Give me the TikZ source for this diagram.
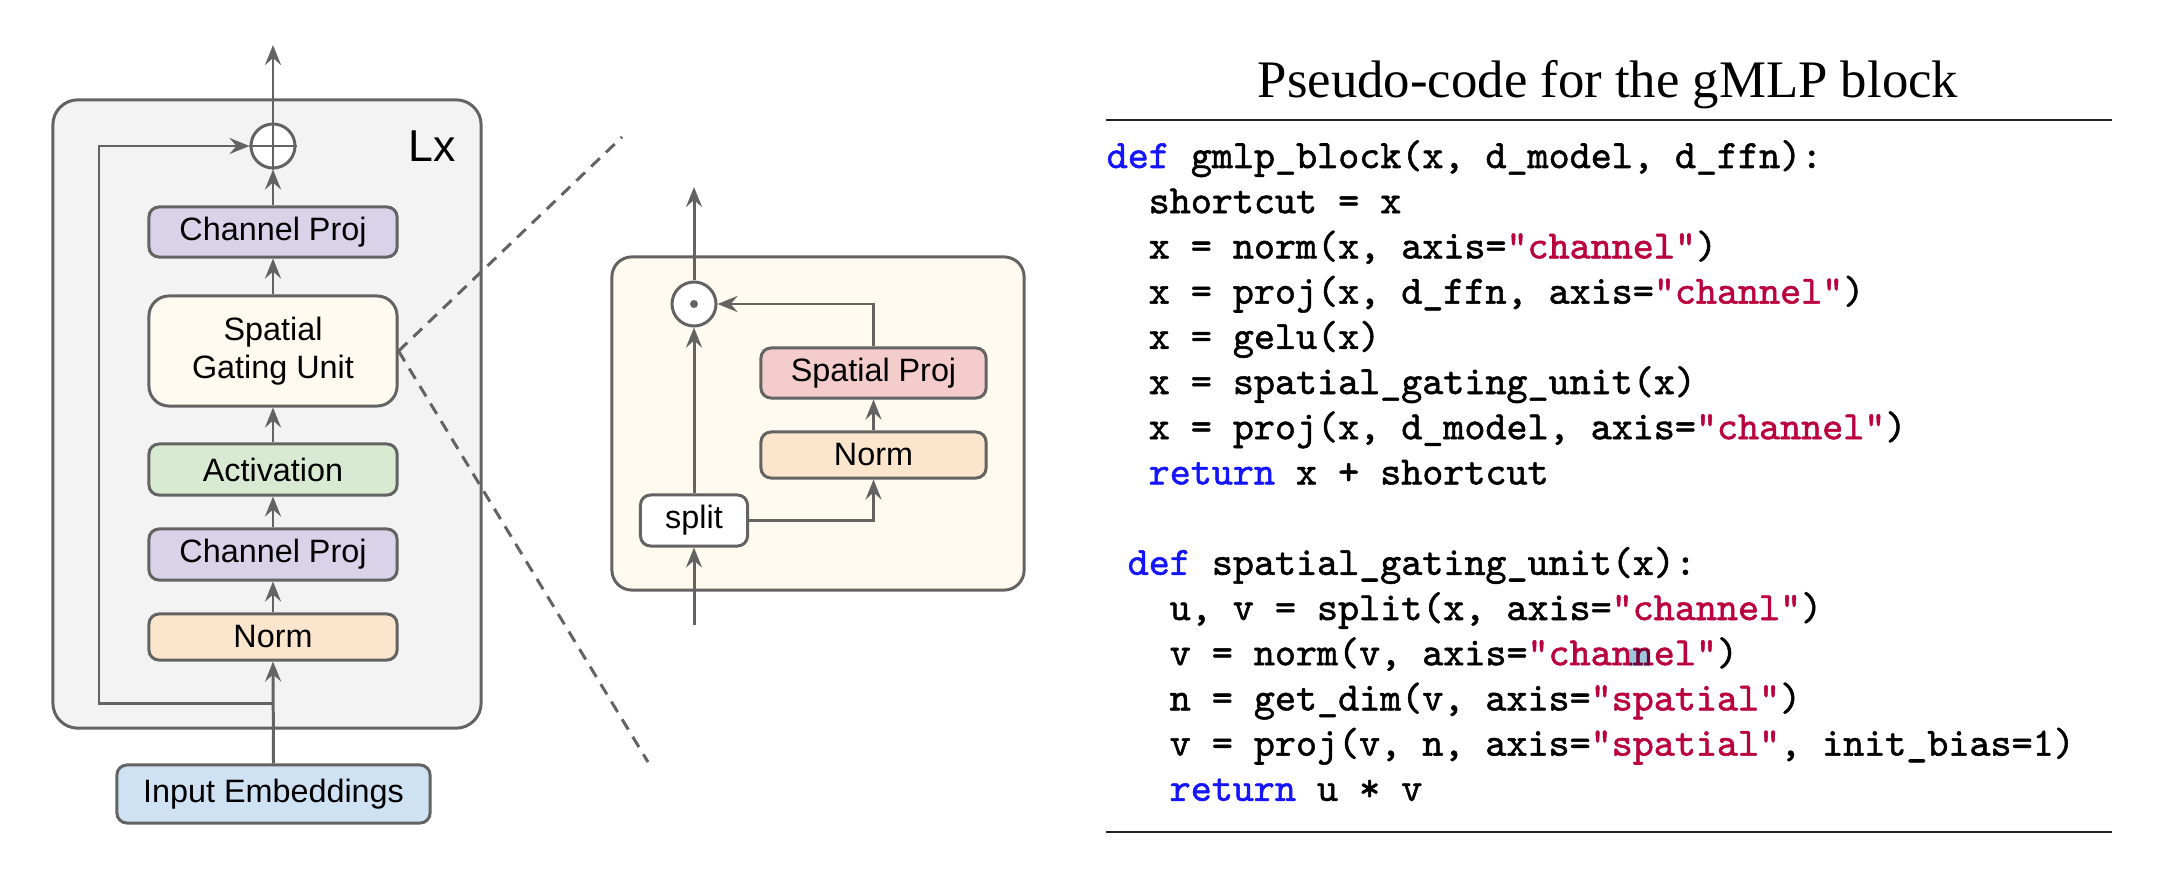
\documentclass[tikz,border=0pt]{standalone}
\usepackage{fontspec}
\setmainfont{Liberation Serif}
\setsansfont{Liberation Sans}
\newfontfamily\codefont{lmmono10-regular.otf}[FakeBold=1.3]
\usetikzlibrary{arrows.meta,calc}
\definecolor{linec}{HTML}{636363}
\definecolor{bgc}{HTML}{F3F3F3}
\definecolor{sguc}{HTML}{FEFAEF}
\definecolor{cpc}{HTML}{D9D2E9}
\definecolor{actc}{HTML}{D9EAD3}
\definecolor{normc}{HTML}{FCE5CD}
\definecolor{inpc}{HTML}{CFE2F3}
\definecolor{spc}{HTML}{F4CCCC}
\definecolor{kwc}{RGB}{20,20,255}
\definecolor{strc}{RGB}{187,0,64}
\definecolor{hlc}{RGB}{160,195,222}
\definecolor{rulec}{HTML}{222222}
\newcommand\ckw[1]{\textcolor{kwc}{#1}}
\newcommand\cstr[1]{\textcolor{strc}{#1}}
\tikzset{
  blk/.style={draw=linec, line width=0.85pt, rounded corners=0.1cm, minimum width=2.48cm,
    minimum height=0.5cm, inner sep=0pt, text=black, font=\sffamily\fontsize{9.2}{10.8}\selectfont},
  arr/.style={draw=linec, line width=0.85pt, -{Stealth[length=0.2cm,width=0.16cm,inset=0.07cm]}},
  plainl/.style={draw=linec, line width=0.85pt},
  dashl/.style={draw=linec, line width=0.85pt, dash pattern=on 0.12cm off 0.085cm},
  opc/.style={circle, draw=linec, line width=0.85pt, fill=white, minimum size=0.44cm, inner sep=0pt},
  codel/.style={anchor=base west, inner sep=0pt, font=\codefont\fontsize{11.4}{13}\selectfont},
  rulel/.style={draw=rulec, line width=0.6pt},
}
\begin{document}
\begin{tikzpicture}[x=0.01cm, y=-0.01cm]
\useasboundingbox (0,0) rectangle (2176,870);

% ---------------- left panel ----------------
\node[draw=linec, line width=0.85pt, fill=bgc, rounded corners=0.25cm,
      minimum width=4.28cm, minimum height=6.28cm, inner sep=0pt] (outer) at (267,414) {};
\node[anchor=base, inner sep=0pt, font=\sffamily\fontsize{12.7}{14}\selectfont] (lx) at (432,162) {Lx};

\node[opc] (plus) at (273,146) {};
\draw[plainl] (plus.north) -- (plus.south);
\draw[plainl] (plus.west) -- (plus.east);

\node[blk, fill=cpc] (cpT) at (273,232) {Channel Proj};
\node[blk, fill=sguc, rounded corners=0.2cm, minimum height=1.1cm, align=center] (sgu) at (273,351) {Spatial\\Gating Unit};
\node[blk, fill=actc, minimum height=0.51cm] (act) at (273,469.5) {Activation};
\node[blk, fill=cpc, minimum height=0.51cm] (cpB) at (273,554.5) {Channel Proj};
\node[blk, fill=normc, minimum height=0.46cm] (normL) at (273,637) {Norm};
\node[blk, fill=inpc, minimum width=3.13cm, minimum height=0.58cm] (inp) at (273.5,794) {Input Embeddings};

\coordinate (outL) at (273,45);
\coordinate (skipB) at (273,703);
\coordinate (skipL) at (99,703);

\draw[arr] (inp.north) -- (normL.south);
\draw[arr] (normL.north) -- (cpB.south);
\draw[arr] (cpB.north) -- (act.south);
\draw[arr] (act.north) -- (sgu.south);
\draw[arr] (sgu.north) -- (cpT.south);
\draw[arr] (cpT.north) -- (plus.south);
\draw[arr] (plus.north) -- (outL);
\draw[arr] (skipB) -- (skipL) |- (plus.west);

% dashed zoom lines
\coordinate (dA) at (622,137);
\coordinate (dB) at (648,762);
\draw[dashl] (sgu.east) -- (dA);
\draw[dashl] (sgu.east) -- (dB);

% ---------------- middle panel ----------------
\node[draw=linec, line width=0.85pt, fill=sguc, rounded corners=0.2cm,
      minimum width=4.12cm, minimum height=3.33cm, inner sep=0pt] (sgubox) at (818,423.5) {};
\node[opc] (odot) at (694,304) {};
\fill[linec] (odot.center) circle (0.04cm);
\node[blk, fill=white, minimum width=1.07cm, minimum height=0.51cm] (split) at (694,520.5) {split};
\node[blk, fill=normc, minimum width=2.25cm, minimum height=0.46cm] (normM) at (873.5,455) {Norm};
\node[blk, fill=spc, minimum width=2.25cm, minimum height=0.5cm] (sp) at (873.5,373) {Spatial Proj};

\coordinate (inM) at (694,625);
\coordinate (outM) at (694,187);
\draw[arr] (inM) -- (split.south);
\draw[arr] (split.north) -- (odot.south);
\draw[arr] (odot.north) -- (outM);
\draw[arr] (split.east) -| (normM.south);
\draw[arr] (normM.north) -- (sp.south);
\draw[arr] (sp.north) |- (odot.east);

% ---------------- right panel ----------------
\node[anchor=base, inner sep=0pt, font=\rmfamily\fontsize{15}{17}\selectfont] (title) at (1608,98) {Pseudo-code for the gMLP block};
\coordinate (r1a) at (1106,120);
\coordinate (r1b) at (2112,120);
\coordinate (r2a) at (1106,832);
\coordinate (r2b) at (2112,832);
\draw[rulel] (r1a) -- (r1b);
\draw[rulel] (r2a) -- (r2b);

\node[codel] (c0) at (1106,168) {\ckw{def} gmlp\_block(x, d\_model, d\_ffn):};
\node[codel] (c1) at (1148,213.2) {shortcut = x};
\node[codel] (c2) at (1148,258.4) {x = norm(x, axis=\cstr{"channel"})};
\node[codel] (c3) at (1148,303.6) {x = proj(x, d\_ffn, axis=\cstr{"channel"})};
\node[codel] (c4) at (1148,348.8) {x = gelu(x)};
\node[codel] (c5) at (1148,394) {x = spatial\_gating\_unit(x)};
\node[codel] (c6) at (1148,439.2) {x = proj(x, d\_model, axis=\cstr{"channel"})};
\node[codel] (c7) at (1148,484.4) {\ckw{return} x + shortcut};
\node[codel] (c9) at (1127,574.8) {\ckw{def} spatial\_gating\_unit(x):};
\node[codel] (c10) at (1169,620) {u, v = split(x, axis=\cstr{"channel"})};
\node[codel] (c11) at (1169,665.2) {v = norm(v, axis=\cstr{"channel"})};
\node[codel] (c12) at (1169,710.4) {n = get\_dim(v, axis=\cstr{"spatial"})};
\node[codel] (c13) at (1169,755.6) {v = proj(v, n, axis=\cstr{"spatial"}, init\_bias=1)};
\node[codel] (c14) at (1169,800.8) {\ckw{return} u * v};

\fill[hlc, blend mode=multiply] (1629,649) rectangle (1650,665.5);
\end{tikzpicture}
\end{document}
